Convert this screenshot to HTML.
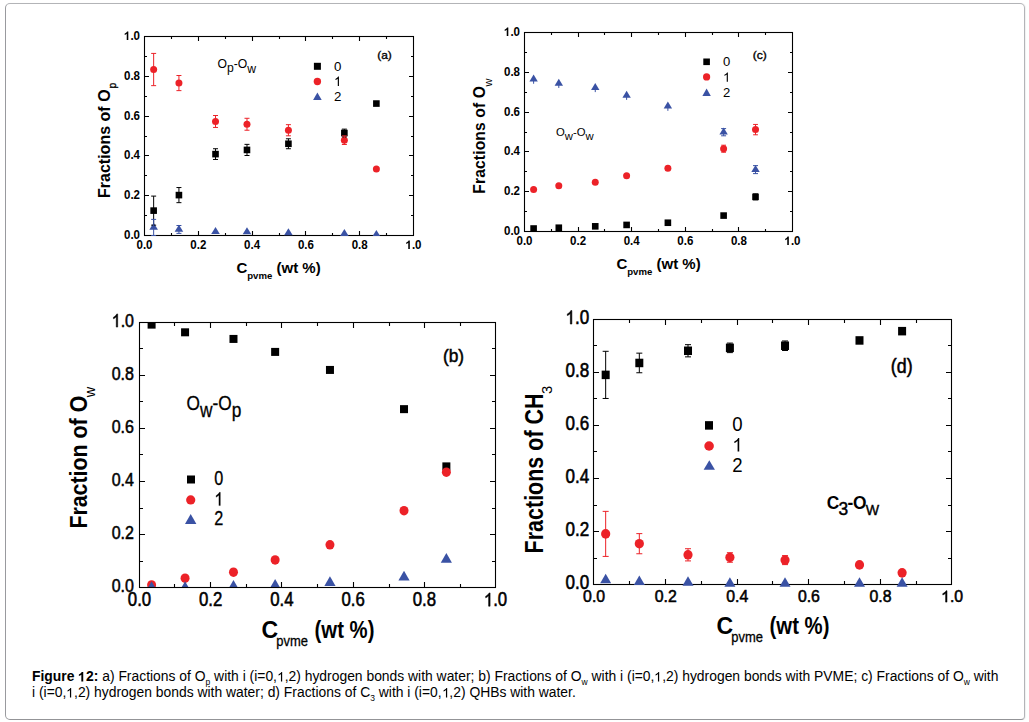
<!DOCTYPE html><html><head><meta charset="utf-8"><style>html,body{margin:0;padding:0;background:#fff;}svg{display:block;position:absolute;left:0;top:0}text{font-family:"Liberation Sans", sans-serif;}.cap{position:absolute;left:32px;font-family:"Liberation Sans", sans-serif;font-size:13.88px;color:#000;white-space:nowrap;line-height:16px}.cap sub{font-size:8.5px;vertical-align:-4px;line-height:0}.o1{display:inline-block;position:relative;width:0.5562em;height:0}.o1 svg{position:absolute;left:0;top:auto;bottom:0;width:0.5562em;height:0.688em;overflow:visible}</style></head><body>
<svg width="1029" height="722" viewBox="0 0 1029 722">
<rect x="0" y="0" width="1029" height="722" fill="#fff"/>
<path d="M171.5 235.5v-2.5M171.5 36.5v2.5M144.5 215.5h2.5M413.5 215.5h-2.5M198.5 235.5v-4.5M198.5 36.5v4.5M144.5 195.5h4.5M413.5 195.5h-4.5M225.5 235.5v-2.5M225.5 36.5v2.5M144.5 175.5h2.5M413.5 175.5h-2.5M252.5 235.5v-4.5M252.5 36.5v4.5M144.5 155.5h4.5M413.5 155.5h-4.5M279.5 235.5v-2.5M279.5 36.5v2.5M144.5 136.5h2.5M413.5 136.5h-2.5M305.5 235.5v-4.5M305.5 36.5v4.5M144.5 116.5h4.5M413.5 116.5h-4.5M332.5 235.5v-2.5M332.5 36.5v2.5M144.5 96.5h2.5M413.5 96.5h-2.5M359.5 235.5v-4.5M359.5 36.5v4.5M144.5 76.5h4.5M413.5 76.5h-4.5M386.5 235.5v-2.5M386.5 36.5v2.5M144.5 56.5h2.5M413.5 56.5h-2.5" stroke="#000" stroke-width="1.1" fill="none"/>
<clipPath id="ca"><rect x="144.5" y="36.5" width="269" height="199.6"/></clipPath>
<rect x="144.5" y="36.5" width="269" height="199" fill="none" stroke="#000" stroke-width="1.1"/>
<g clip-path="url(#ca)"><rect x="150.35" y="207.32" width="6.6" height="6.6" fill="#000"/><rect x="175.63" y="191.8" width="6.6" height="6.6" fill="#000"/><rect x="212.22" y="150.81" width="6.6" height="6.6" fill="#000"/><rect x="243.69" y="146.63" width="6.6" height="6.6" fill="#000"/><rect x="285.12" y="140.46" width="6.6" height="6.6" fill="#000"/><rect x="341.07" y="129.71" width="6.6" height="6.6" fill="#000"/><rect x="373.08" y="100.26" width="6.6" height="6.6" fill="#000"/></g>
<g clip-path="url(#ca)"><ellipse cx="153.65" cy="69.53" rx="3.5" ry="3.5" fill="#ec2228"/><ellipse cx="178.93" cy="83.07" rx="3.5" ry="3.5" fill="#ec2228"/><ellipse cx="215.52" cy="121.47" rx="3.5" ry="3.5" fill="#ec2228"/><ellipse cx="246.99" cy="124.26" rx="3.5" ry="3.5" fill="#ec2228"/><ellipse cx="288.42" cy="130.23" rx="3.5" ry="3.5" fill="#ec2228"/><ellipse cx="344.37" cy="140.18" rx="3.5" ry="3.5" fill="#ec2228"/><ellipse cx="376.38" cy="169.03" rx="3.5" ry="3.5" fill="#ec2228"/></g>
<g clip-path="url(#ca)"><path d="M153.65 222.77L157.95 229.77L149.35 229.77Z" fill="#3a52a4"/><path d="M178.93 224.78L183.23 231.78L174.63 231.78Z" fill="#3a52a4"/><path d="M215.52 227.05L219.82 234.05L211.22 234.05Z" fill="#3a52a4"/><path d="M246.99 227.29L251.29 234.29L242.69 234.29Z" fill="#3a52a4"/><path d="M288.42 228.13L292.72 235.13L284.12 235.13Z" fill="#3a52a4"/><path d="M344.37 228.94L348.67 235.94L340.07 235.94Z" fill="#3a52a4"/><path d="M376.38 229.94L380.68 236.94L372.08 236.94Z" fill="#3a52a4"/></g>
<g clip-path="url(#ca)"><path d="M153.65 196.1V225.15M151.15 196.1h5M151.15 225.15h5" stroke="#000" stroke-width="1.0" fill="none"/><path d="M178.93 187.54V202.66M176.43 187.54h5M176.43 202.66h5" stroke="#000" stroke-width="1.0" fill="none"/><path d="M215.52 148.74V159.48M213.02 148.74h5M213.02 159.48h5" stroke="#000" stroke-width="1.0" fill="none"/><path d="M246.99 144.36V155.5M244.49 144.36h5M244.49 155.5h5" stroke="#000" stroke-width="1.0" fill="none"/><path d="M288.42 138.79V148.74M285.92 138.79h5M285.92 148.74h5" stroke="#000" stroke-width="1.0" fill="none"/><path d="M344.37 129.13V136.9M341.87 129.13h5M341.87 136.9h5" stroke="#000" stroke-width="1.0" fill="none"/></g>
<g clip-path="url(#ca)"><path d="M153.65 53.42V85.65M151.15 53.42h5M151.15 85.65h5" stroke="#ec2228" stroke-width="1.0" fill="none"/><path d="M178.93 75.5V90.63M176.43 75.5h5M176.43 90.63h5" stroke="#ec2228" stroke-width="1.0" fill="none"/><path d="M215.52 115.5V127.44M213.02 115.5h5M213.02 127.44h5" stroke="#ec2228" stroke-width="1.0" fill="none"/><path d="M246.99 118.29V130.23M244.49 118.29h5M244.49 130.23h5" stroke="#ec2228" stroke-width="1.0" fill="none"/><path d="M288.42 124.66V135.8M285.92 124.66h5M285.92 135.8h5" stroke="#ec2228" stroke-width="1.0" fill="none"/><path d="M344.37 135.88V144.48M341.87 135.88h5M341.87 144.48h5" stroke="#ec2228" stroke-width="1.0" fill="none"/></g>
<g clip-path="url(#ca)"><path d="M153.65 219.38V235.5M151.15 219.38h5M151.15 235.5h5" stroke="#3a52a4" stroke-width="1.0" fill="none"/><path d="M178.93 225.51V233.39M176.43 225.51h5M176.43 233.39h5" stroke="#3a52a4" stroke-width="1.0" fill="none"/></g>
<text transform="translate(144.5 248.9) scale(0.93 1)" font-size="12.4" font-weight="bold" text-anchor="middle" fill="#000">0.0</text>
<text transform="translate(198.3 248.9) scale(0.93 1)" font-size="12.4" font-weight="bold" text-anchor="middle" fill="#000">0.2</text>
<text transform="translate(252.1 248.9) scale(0.93 1)" font-size="12.4" font-weight="bold" text-anchor="middle" fill="#000">0.4</text>
<text transform="translate(305.9 248.9) scale(0.93 1)" font-size="12.4" font-weight="bold" text-anchor="middle" fill="#000">0.6</text>
<text transform="translate(359.7 248.9) scale(0.93 1)" font-size="12.4" font-weight="bold" text-anchor="middle" fill="#000">0.8</text>
<g transform="translate(413.5 248.9) scale(0.93 1)"><path d="M773 0L492 0L492 1014Q338 876 129 810L129 1054Q239 1088 368 1184Q497 1280 545 1409L773 1409Z" transform="translate(-8.62 0) scale(0.00605 -0.00605)" fill="#000"/><text x="-1.72" y="0" font-size="12.4" font-weight="bold" fill="#000">.0</text></g>
<text transform="translate(140 238.9) scale(0.93 1)" font-size="12.4" font-weight="bold" text-anchor="end" fill="#000">0.0</text>
<text transform="translate(140 199.1) scale(0.93 1)" font-size="12.4" font-weight="bold" text-anchor="end" fill="#000">0.2</text>
<text transform="translate(140 159.3) scale(0.93 1)" font-size="12.4" font-weight="bold" text-anchor="end" fill="#000">0.4</text>
<text transform="translate(140 119.5) scale(0.93 1)" font-size="12.4" font-weight="bold" text-anchor="end" fill="#000">0.6</text>
<text transform="translate(140 79.7) scale(0.93 1)" font-size="12.4" font-weight="bold" text-anchor="end" fill="#000">0.8</text>
<g transform="translate(140 39.9) scale(0.93 1)"><path d="M773 0L492 0L492 1014Q338 876 129 810L129 1054Q239 1088 368 1184Q497 1280 545 1409L773 1409Z" transform="translate(-17.24 0) scale(0.00605 -0.00605)" fill="#000"/><text x="-10.34" y="0" font-size="12.4" font-weight="bold" fill="#000">.0</text></g>
<rect x="313.9" y="62.8" width="7" height="7" fill="#000"/>
<ellipse cx="317.4" cy="81.5" rx="3.7" ry="3.7" fill="#ec2228"/>
<path d="M317.4 92.5L321.7 100.1L313.1 100.1Z" fill="#3a52a4"/>
<text transform="translate(334 70.8) scale(0.97 1)" font-size="13.7" fill="#000">0</text>
<g transform="translate(334 86) scale(0.97 1)"><path d="M763 0L583 0L583 1098Q518 1039 412 980Q306 920 222 890L222 1057Q373 1125 486 1221Q599 1318 646 1409L763 1409Z" transform="translate(0 0) scale(0.00669 -0.00669)" fill="#000"/></g>
<text transform="translate(334 101) scale(0.97 1)" font-size="13.7" fill="#000">2</text>
<text transform="translate(377.2 58.6) scale(1.03 1)" font-size="11.6" stroke="#000" stroke-width="0.35" fill="#000">(a)</text>
<text x="217.4" y="67.8" font-size="12.2" fill="#000">O<tspan dy="4.6">p</tspan><tspan dy="-4.6">-O</tspan><tspan dy="4.8">w</tspan></text>
<text transform="translate(109.5 198.0) rotate(-90)" font-size="16" font-weight="bold" fill="#000" textLength="108.6" lengthAdjust="spacing">Fractions of O</text>
<text transform="translate(116.4 88.6) rotate(-90)" font-size="10.4" stroke="#000" stroke-width="0.35" fill="#000">p</text>
<text x="236.4" y="272.6" font-size="15" font-weight="bold" fill="#000">C<tspan dy="6.2" font-size="9.6">pvme</tspan><tspan dy="-6.2"> (wt %)</tspan></text>
<path d="M551.5 231.5v-2.5M551.5 32.5v2.5M524.5 211.5h2.5M792.5 211.5h-2.5M578.5 231.5v-4.5M578.5 32.5v4.5M524.5 191.5h4.5M792.5 191.5h-4.5M604.5 231.5v-2.5M604.5 32.5v2.5M524.5 171.5h2.5M792.5 171.5h-2.5M631.5 231.5v-4.5M631.5 32.5v4.5M524.5 151.5h4.5M792.5 151.5h-4.5M658.5 231.5v-2.5M658.5 32.5v2.5M524.5 132.5h2.5M792.5 132.5h-2.5M685.5 231.5v-4.5M685.5 32.5v4.5M524.5 112.5h4.5M792.5 112.5h-4.5M712.5 231.5v-2.5M712.5 32.5v2.5M524.5 92.5h2.5M792.5 92.5h-2.5M738.5 231.5v-4.5M738.5 32.5v4.5M524.5 72.5h4.5M792.5 72.5h-4.5M765.5 231.5v-2.5M765.5 32.5v2.5M524.5 52.5h2.5M792.5 52.5h-2.5" stroke="#000" stroke-width="1.1" fill="none"/>
<clipPath id="cc"><rect x="524.5" y="32.5" width="268" height="199.6"/></clipPath>
<rect x="524.5" y="32.5" width="268" height="199" fill="none" stroke="#000" stroke-width="1.1"/>
<g clip-path="url(#cc)"><rect x="530.31" y="225.21" width="6.6" height="6.6" fill="#000"/><rect x="555.5" y="224.42" width="6.6" height="6.6" fill="#000"/><rect x="591.95" y="223.03" width="6.6" height="6.6" fill="#000"/><rect x="623.31" y="221.63" width="6.6" height="6.6" fill="#000"/><rect x="664.58" y="219.44" width="6.6" height="6.6" fill="#000"/><rect x="720.32" y="212.28" width="6.6" height="6.6" fill="#000"/><rect x="752.22" y="193.57" width="6.6" height="6.6" fill="#000"/></g>
<g clip-path="url(#cc)"><ellipse cx="533.61" cy="189.51" rx="3.5" ry="3.5" fill="#ec2228"/><ellipse cx="558.8" cy="185.73" rx="3.5" ry="3.5" fill="#ec2228"/><ellipse cx="595.25" cy="182.35" rx="3.5" ry="3.5" fill="#ec2228"/><ellipse cx="626.61" cy="175.78" rx="3.5" ry="3.5" fill="#ec2228"/><ellipse cx="667.88" cy="168.22" rx="3.5" ry="3.5" fill="#ec2228"/><ellipse cx="723.62" cy="148.72" rx="3.5" ry="3.5" fill="#ec2228"/><ellipse cx="755.52" cy="129.61" rx="3.5" ry="3.5" fill="#ec2228"/></g>
<g clip-path="url(#cc)"><path d="M755.52 164.94L759.72 171.94L751.32 171.94Z" fill="#3a52a4"/><path d="M723.62 127.53L727.82 134.53L719.42 134.53Z" fill="#3a52a4"/><path d="M667.88 101.46L672.08 108.46L663.68 108.46Z" fill="#3a52a4"/><path d="M626.61 90.72L630.81 97.72L622.41 97.72Z" fill="#3a52a4"/><path d="M595.25 82.96L599.45 89.96L591.05 89.96Z" fill="#3a52a4"/><path d="M558.8 78.78L563 85.78L554.6 85.78Z" fill="#3a52a4"/><path d="M533.61 74.6L537.81 81.6L529.41 81.6Z" fill="#3a52a4"/><path d="M533.61 79.26V83.76" stroke="#3a52a4" stroke-width="1" fill="none"/><path d="M558.8 83.44V87.94" stroke="#3a52a4" stroke-width="1" fill="none"/><path d="M595.25 87.62V92.12" stroke="#3a52a4" stroke-width="1" fill="none"/><path d="M626.61 95.38V99.88" stroke="#3a52a4" stroke-width="1" fill="none"/><path d="M667.88 106.13V110.83" stroke="#3a52a4" stroke-width="1" fill="none"/><path d="M723.62 128.6V135.8M721.12 128.6h5M721.12 135.8h5" stroke="#3a52a4" stroke-width="1" fill="none"/><path d="M755.52 165.61V173.61M753.02 165.61h5M753.02 173.61h5" stroke="#3a52a4" stroke-width="1" fill="none"/></g>
<g clip-path="url(#cc)"><path d="M755.52 193.89V199.86M753.02 193.89h5M753.02 199.86h5" stroke="#000" stroke-width="1.0" fill="none"/></g>
<g clip-path="url(#cc)"><path d="M723.62 145.21V152.22M721.22 145.21h4.8M721.22 152.22h4.8" stroke="#ec2228" stroke-width="1.0" fill="none"/><path d="M755.52 124.44V134.79M753.12 124.44h4.8M753.12 134.79h4.8" stroke="#ec2228" stroke-width="1.0" fill="none"/></g>
<text transform="translate(524.5 245.1) scale(0.93 1)" font-size="12.4" font-weight="bold" text-anchor="middle" fill="#000">0.0</text>
<text transform="translate(578.1 245.1) scale(0.93 1)" font-size="12.4" font-weight="bold" text-anchor="middle" fill="#000">0.2</text>
<text transform="translate(631.7 245.1) scale(0.93 1)" font-size="12.4" font-weight="bold" text-anchor="middle" fill="#000">0.4</text>
<text transform="translate(685.3 245.1) scale(0.93 1)" font-size="12.4" font-weight="bold" text-anchor="middle" fill="#000">0.6</text>
<text transform="translate(738.9 245.1) scale(0.93 1)" font-size="12.4" font-weight="bold" text-anchor="middle" fill="#000">0.8</text>
<g transform="translate(792.5 245.1) scale(0.93 1)"><path d="M773 0L492 0L492 1014Q338 876 129 810L129 1054Q239 1088 368 1184Q497 1280 545 1409L773 1409Z" transform="translate(-8.62 0) scale(0.00605 -0.00605)" fill="#000"/><text x="-1.72" y="0" font-size="12.4" font-weight="bold" fill="#000">.0</text></g>
<text transform="translate(520 234.9) scale(0.93 1)" font-size="12.4" font-weight="bold" text-anchor="end" fill="#000">0.0</text>
<text transform="translate(520 195.1) scale(0.93 1)" font-size="12.4" font-weight="bold" text-anchor="end" fill="#000">0.2</text>
<text transform="translate(520 155.3) scale(0.93 1)" font-size="12.4" font-weight="bold" text-anchor="end" fill="#000">0.4</text>
<text transform="translate(520 115.5) scale(0.93 1)" font-size="12.4" font-weight="bold" text-anchor="end" fill="#000">0.6</text>
<text transform="translate(520 75.7) scale(0.93 1)" font-size="12.4" font-weight="bold" text-anchor="end" fill="#000">0.8</text>
<g transform="translate(520 35.9) scale(0.93 1)"><path d="M773 0L492 0L492 1014Q338 876 129 810L129 1054Q239 1088 368 1184Q497 1280 545 1409L773 1409Z" transform="translate(-17.24 0) scale(0.00605 -0.00605)" fill="#000"/><text x="-10.34" y="0" font-size="12.4" font-weight="bold" fill="#000">.0</text></g>
<rect x="703.3" y="58.5" width="6.6" height="6.6" fill="#000"/>
<ellipse cx="706.6" cy="76.9" rx="3.6" ry="3.6" fill="#ec2228"/>
<path d="M706.6 88.5L710.8 95.9L702.4 95.9Z" fill="#3a52a4"/>
<text transform="translate(723 65.8) scale(0.97 1)" font-size="13.5" fill="#000">0</text>
<g transform="translate(723 81.8) scale(0.97 1)"><path d="M763 0L583 0L583 1098Q518 1039 412 980Q306 920 222 890L222 1057Q373 1125 486 1221Q599 1318 646 1409L763 1409Z" transform="translate(0 0) scale(0.00659 -0.00659)" fill="#000"/></g>
<text transform="translate(723 97) scale(0.97 1)" font-size="13.5" fill="#000">2</text>
<text transform="translate(752.8 59.1) scale(1.08 1)" font-size="11.2" stroke="#000" stroke-width="0.35" fill="#000">(c)</text>
<text x="556.0" y="135.9" font-size="11.3" fill="#000">O<tspan dy="3.8">w</tspan><tspan dy="-3.8">-O</tspan><tspan dy="3.8">w</tspan></text>
<text transform="translate(484.9 193.7) rotate(-90)" font-size="15.6" font-weight="bold" fill="#000" textLength="107.6" lengthAdjust="spacing">Fractions of O</text>
<text transform="translate(492.1 86.6) rotate(-90)" font-size="11" fill="#000">w</text>
<text x="616.4" y="268.8" font-size="15" font-weight="bold" fill="#000">C<tspan dy="6.2" font-size="9.6">pvme</tspan><tspan dy="-6.2"> (wt %)</tspan></text>
<path d="M174.5 587.5v-3.5M174.5 322.5v3.5M139.5 561.5h3.5M495.5 561.5h-3.5M210.5 587.5v-5.5M210.5 322.5v5.5M139.5 534.5h5.5M495.5 534.5h-5.5M246.5 587.5v-3.5M246.5 322.5v3.5M139.5 508.5h3.5M495.5 508.5h-3.5M281.5 587.5v-5.5M281.5 322.5v5.5M139.5 481.5h5.5M495.5 481.5h-5.5M317.5 587.5v-3.5M317.5 322.5v3.5M139.5 454.5h3.5M495.5 454.5h-3.5M353.5 587.5v-5.5M353.5 322.5v5.5M139.5 428.5h5.5M495.5 428.5h-5.5M389.5 587.5v-3.5M389.5 322.5v3.5M139.5 401.5h3.5M495.5 401.5h-3.5M424.5 587.5v-5.5M424.5 322.5v5.5M139.5 375.5h5.5M495.5 375.5h-5.5M460.5 587.5v-3.5M460.5 322.5v3.5M139.5 348.5h3.5M495.5 348.5h-3.5" stroke="#000" stroke-width="1.1" fill="none"/>
<clipPath id="cb"><rect x="139.5" y="322.5" width="356" height="265"/></clipPath>
<g clip-path="url(#cb)"><rect x="147.6" y="320.62" width="8" height="8" fill="#000"/><rect x="181.07" y="328.31" width="8" height="8" fill="#000"/><rect x="229.48" y="334.93" width="8" height="8" fill="#000"/><rect x="271.14" y="347.91" width="8" height="8" fill="#000"/><rect x="325.96" y="365.94" width="8" height="8" fill="#000"/><rect x="400.01" y="405.15" width="8" height="8" fill="#000"/><rect x="442.37" y="462.39" width="8" height="8" fill="#000"/></g>
<g clip-path="url(#cb)"><ellipse cx="151.6" cy="584.9" rx="4.5" ry="4.75" fill="#ec2228"/><ellipse cx="185.07" cy="578.23" rx="4.5" ry="4.75" fill="#ec2228"/><ellipse cx="233.48" cy="572.13" rx="4.5" ry="4.75" fill="#ec2228"/><ellipse cx="275.14" cy="559.94" rx="4.5" ry="4.75" fill="#ec2228"/><ellipse cx="329.96" cy="544.84" rx="4.5" ry="4.75" fill="#ec2228"/><ellipse cx="404.01" cy="510.65" rx="4.5" ry="4.75" fill="#ec2228"/><ellipse cx="446.37" cy="472.23" rx="4.5" ry="4.75" fill="#ec2228"/></g>
<g clip-path="url(#cb)"><path d="M151.6 581.23L157.2 591.03L146 591.03Z" fill="#3a52a4"/><path d="M185.07 581.23L190.67 591.03L179.47 591.03Z" fill="#3a52a4"/><path d="M233.48 579.91L239.08 589.71L227.88 589.71Z" fill="#3a52a4"/><path d="M275.14 578.98L280.74 588.78L269.54 588.78Z" fill="#3a52a4"/><path d="M329.96 576.2L335.56 586L324.36 586Z" fill="#3a52a4"/><path d="M404.01 570.76L409.61 580.56L398.41 580.56Z" fill="#3a52a4"/><path d="M446.37 552.96L451.97 562.76L440.77 562.76Z" fill="#3a52a4"/></g>
<rect x="139.5" y="322.5" width="356" height="265" fill="none" stroke="#000" stroke-width="1.1"/>
<text transform="translate(139.5 606.2) scale(0.87 1)" font-size="19.3" stroke="#000" stroke-width="0.55" text-anchor="middle" fill="#000">0.0</text>
<text transform="translate(210.7 606.2) scale(0.87 1)" font-size="19.3" stroke="#000" stroke-width="0.55" text-anchor="middle" fill="#000">0.2</text>
<text transform="translate(281.9 606.2) scale(0.87 1)" font-size="19.3" stroke="#000" stroke-width="0.55" text-anchor="middle" fill="#000">0.4</text>
<text transform="translate(353.1 606.2) scale(0.87 1)" font-size="19.3" stroke="#000" stroke-width="0.55" text-anchor="middle" fill="#000">0.6</text>
<text transform="translate(424.3 606.2) scale(0.87 1)" font-size="19.3" stroke="#000" stroke-width="0.55" text-anchor="middle" fill="#000">0.8</text>
<g transform="translate(495.5 606.2) scale(0.87 1)"><path d="M763 0L583 0L583 1098Q518 1039 412 980Q306 920 222 890L222 1057Q373 1125 486 1221Q599 1318 646 1409L763 1409Z" transform="translate(-13.41 0) scale(0.00942 -0.00942)" fill="#000" stroke="#000" stroke-width="58"/><text x="-2.68" y="0" font-size="19.3" stroke="#000" stroke-width="0.55" fill="#000">.0</text></g>
<text transform="translate(134 592.08) scale(0.84 1)" font-size="19.1" stroke="#000" stroke-width="0.55" text-anchor="end" fill="#000">0.0</text>
<text transform="translate(134 539.08) scale(0.84 1)" font-size="19.1" stroke="#000" stroke-width="0.55" text-anchor="end" fill="#000">0.2</text>
<text transform="translate(134 486.08) scale(0.84 1)" font-size="19.1" stroke="#000" stroke-width="0.55" text-anchor="end" fill="#000">0.4</text>
<text transform="translate(134 433.08) scale(0.84 1)" font-size="19.1" stroke="#000" stroke-width="0.55" text-anchor="end" fill="#000">0.6</text>
<text transform="translate(134 380.08) scale(0.84 1)" font-size="19.1" stroke="#000" stroke-width="0.55" text-anchor="end" fill="#000">0.8</text>
<g transform="translate(134 327.08) scale(0.84 1)"><path d="M763 0L583 0L583 1098Q518 1039 412 980Q306 920 222 890L222 1057Q373 1125 486 1221Q599 1318 646 1409L763 1409Z" transform="translate(-26.55 0) scale(0.00933 -0.00933)" fill="#000" stroke="#000" stroke-width="59"/><text x="-15.93" y="0" font-size="19.1" stroke="#000" stroke-width="0.55" fill="#000">.0</text></g>
<rect x="187" y="475.5" width="8" height="8" fill="#000"/>
<ellipse cx="190.7" cy="499.9" rx="4.6" ry="4.6" fill="#ec2228"/>
<path d="M190.7 514.05L196.4 523.95L185 523.95Z" fill="#3a52a4"/>
<text transform="translate(214.3 484.6) scale(0.84 1)" font-size="19.3" stroke="#000" stroke-width="0.3" fill="#000">0</text>
<g transform="translate(214.3 505.6) scale(0.84 1)"><path d="M763 0L583 0L583 1098Q518 1039 412 980Q306 920 222 890L222 1057Q373 1125 486 1221Q599 1318 646 1409L763 1409Z" transform="translate(0 0) scale(0.00942 -0.00942)" fill="#000" stroke="#000" stroke-width="32"/></g>
<text transform="translate(214.3 525.4) scale(0.84 1)" font-size="19.3" stroke="#000" stroke-width="0.3" fill="#000">2</text>
<text transform="translate(443 361.7) scale(0.93 1)" font-size="18.6" stroke="#000" stroke-width="0.5" fill="#000">(b)</text>
<text transform="translate(186.6 409.6) scale(0.885 1)" font-size="19.5" fill="#000" stroke="#000" stroke-width="0.3">O<tspan dy="7.1">w</tspan><tspan dy="-7.1">-O</tspan><tspan dy="7.1">p</tspan></text>
<text transform="translate(87 528.6) rotate(-90) scale(0.872 1)" font-size="24.5" font-weight="bold" fill="#000">Fraction of O</text>
<text transform="translate(95 397.2) rotate(-90)" font-size="14.5" fill="#000">w</text>
<text transform="translate(261.4 638) scale(0.93 1)" font-size="24.8" font-weight="bold" fill="#000">C</text>
<text transform="translate(276.2 645.5) scale(0.9 1)" font-size="14.4" stroke="#000" stroke-width="0.3" fill="#000">pvme</text>
<text transform="translate(314.6 638) scale(0.82 1)" font-size="24.8" font-weight="bold" fill="#000">(wt %)</text>
<path d="M629.5 584.5v-3.5M629.5 319.5v3.5M593.5 558.5h3.5M951.5 558.5h-3.5M665.5 584.5v-5.5M665.5 319.5v5.5M593.5 531.5h5.5M951.5 531.5h-5.5M701.5 584.5v-3.5M701.5 319.5v3.5M593.5 505.5h3.5M951.5 505.5h-3.5M737.5 584.5v-5.5M737.5 319.5v5.5M593.5 478.5h5.5M951.5 478.5h-5.5M772.5 584.5v-3.5M772.5 319.5v3.5M593.5 451.5h3.5M951.5 451.5h-3.5M808.5 584.5v-5.5M808.5 319.5v5.5M593.5 425.5h5.5M951.5 425.5h-5.5M844.5 584.5v-3.5M844.5 319.5v3.5M593.5 398.5h3.5M951.5 398.5h-3.5M880.5 584.5v-5.5M880.5 319.5v5.5M593.5 372.5h5.5M951.5 372.5h-5.5M916.5 584.5v-3.5M916.5 319.5v3.5M593.5 345.5h3.5M951.5 345.5h-3.5" stroke="#000" stroke-width="1.1" fill="none"/>
<clipPath id="cd"><rect x="593.5" y="319.5" width="358" height="268"/></clipPath>
<rect x="593.5" y="319.5" width="358" height="265" fill="none" stroke="#000" stroke-width="1.1"/>
<g clip-path="url(#cd)"><rect x="601.67" y="370.63" width="8" height="8.5" fill="#000"/><rect x="635.32" y="358.71" width="8" height="8.5" fill="#000"/><rect x="684.01" y="346.52" width="8" height="8.5" fill="#000"/><rect x="725.9" y="343.61" width="8" height="8.5" fill="#000"/><rect x="781.03" y="341.49" width="8" height="8.5" fill="#000"/><rect x="855.49" y="336.19" width="8" height="8.5" fill="#000"/><rect x="898.1" y="326.91" width="8" height="8.5" fill="#000"/></g>
<g clip-path="url(#cd)"><ellipse cx="605.67" cy="533.88" rx="4.6" ry="4.8" fill="#ec2228"/><ellipse cx="639.32" cy="543.69" rx="4.6" ry="4.8" fill="#ec2228"/><ellipse cx="688.01" cy="554.82" rx="4.6" ry="4.8" fill="#ec2228"/><ellipse cx="729.9" cy="557.47" rx="4.6" ry="4.8" fill="#ec2228"/><ellipse cx="785.03" cy="560.12" rx="4.6" ry="4.8" fill="#ec2228"/><ellipse cx="859.49" cy="564.89" rx="4.6" ry="4.8" fill="#ec2228"/><ellipse cx="902.1" cy="572.84" rx="4.6" ry="4.8" fill="#ec2228"/></g>
<g clip-path="url(#cd)"><path d="M605.67 573.77L611.17 583.27L600.17 583.27Z" fill="#3a52a4"/><path d="M639.32 575.57L644.82 585.07L633.82 585.07Z" fill="#3a52a4"/><path d="M688.01 576.26L693.51 585.76L682.51 585.76Z" fill="#3a52a4"/><path d="M729.9 577.16L735.4 586.66L724.4 586.66Z" fill="#3a52a4"/><path d="M785.03 577.16L790.53 586.66L779.53 586.66Z" fill="#3a52a4"/><path d="M859.49 577.16L864.99 586.66L853.99 586.66Z" fill="#3a52a4"/><path d="M902.1 577.24L907.6 586.74L896.6 586.74Z" fill="#3a52a4"/></g>
<g clip-path="url(#cd)"><path d="M605.67 351.3V398.47M602.67 351.3h6M602.67 398.47h6" stroke="#000" stroke-width="1.0" fill="none"/><path d="M639.32 353.15V372.76M636.32 353.15h6M636.32 372.76h6" stroke="#000" stroke-width="1.0" fill="none"/><path d="M688.01 344.67V356.87M685.01 344.67h6M685.01 356.87h6" stroke="#000" stroke-width="1.0" fill="none"/><path d="M729.9 343.08V352.62M726.9 343.08h6M726.9 352.62h6" stroke="#000" stroke-width="1.0" fill="none"/><path d="M785.03 340.97V350.5M782.03 340.97h6M782.03 350.5h6" stroke="#000" stroke-width="1.0" fill="none"/></g>
<g clip-path="url(#cd)"><path d="M605.67 511.36V556.41M602.67 511.36h6M602.67 556.41h6" stroke="#ec2228" stroke-width="1.0" fill="none"/><path d="M639.32 533.62V553.76M636.32 533.62h6M636.32 553.76h6" stroke="#ec2228" stroke-width="1.0" fill="none"/><path d="M688.01 548.73V560.91M685.01 548.73h6M685.01 560.91h6" stroke="#ec2228" stroke-width="1.0" fill="none"/><path d="M729.9 552.7V562.24M726.9 552.7h6M726.9 562.24h6" stroke="#ec2228" stroke-width="1.0" fill="none"/><path d="M785.03 555.62V564.62M782.03 555.62h6M782.03 564.62h6" stroke="#ec2228" stroke-width="1.0" fill="none"/></g>
<text transform="translate(594.1 602.12) scale(0.96 1)" font-size="16.5" stroke="#000" stroke-width="0.55" text-anchor="middle" fill="#000">0.0</text>
<text transform="translate(665.7 602.12) scale(0.96 1)" font-size="16.5" stroke="#000" stroke-width="0.55" text-anchor="middle" fill="#000">0.2</text>
<text transform="translate(737.3 602.12) scale(0.96 1)" font-size="16.5" stroke="#000" stroke-width="0.55" text-anchor="middle" fill="#000">0.4</text>
<text transform="translate(808.9 602.12) scale(0.96 1)" font-size="16.5" stroke="#000" stroke-width="0.55" text-anchor="middle" fill="#000">0.6</text>
<text transform="translate(880.5 602.12) scale(0.96 1)" font-size="16.5" stroke="#000" stroke-width="0.55" text-anchor="middle" fill="#000">0.8</text>
<g transform="translate(952.1 602.12) scale(0.96 1)"><path d="M763 0L583 0L583 1098Q518 1039 412 980Q306 920 222 890L222 1057Q373 1125 486 1221Q599 1318 646 1409L763 1409Z" transform="translate(-11.47 0) scale(0.00806 -0.00806)" fill="#000" stroke="#000" stroke-width="68"/><text x="-2.29" y="0" font-size="16.5" stroke="#000" stroke-width="0.55" fill="#000">.0</text></g>
<text transform="translate(589.2 589.06) scale(0.87 1)" font-size="19.6" stroke="#000" stroke-width="0.6" text-anchor="end" fill="#000">0.0</text>
<text transform="translate(589.2 536.06) scale(0.87 1)" font-size="19.6" stroke="#000" stroke-width="0.6" text-anchor="end" fill="#000">0.2</text>
<text transform="translate(589.2 483.06) scale(0.87 1)" font-size="19.6" stroke="#000" stroke-width="0.6" text-anchor="end" fill="#000">0.4</text>
<text transform="translate(589.2 430.06) scale(0.87 1)" font-size="19.6" stroke="#000" stroke-width="0.6" text-anchor="end" fill="#000">0.6</text>
<text transform="translate(589.2 377.06) scale(0.87 1)" font-size="19.6" stroke="#000" stroke-width="0.6" text-anchor="end" fill="#000">0.8</text>
<g transform="translate(589.2 324.06) scale(0.87 1)"><path d="M763 0L583 0L583 1098Q518 1039 412 980Q306 920 222 890L222 1057Q373 1125 486 1221Q599 1318 646 1409L763 1409Z" transform="translate(-27.25 0) scale(0.00957 -0.00957)" fill="#000" stroke="#000" stroke-width="63"/><text x="-16.35" y="0" font-size="19.6" stroke="#000" stroke-width="0.6" fill="#000">.0</text></g>
<rect x="705" y="421.15" width="8" height="8.5" fill="#000"/>
<ellipse cx="709.1" cy="446" rx="4.8" ry="4.7" fill="#ec2228"/>
<path d="M709.3 460.25L714.95 469.75L703.65 469.75Z" fill="#3a52a4"/>
<text transform="translate(732.3 430.7) scale(0.95 1)" font-size="19.6" fill="#000">0</text>
<g transform="translate(732.3 451.6) scale(0.95 1)"><path d="M763 0L583 0L583 1098Q518 1039 412 980Q306 920 222 890L222 1057Q373 1125 486 1221Q599 1318 646 1409L763 1409Z" transform="translate(0 0) scale(0.00957 -0.00957)" fill="#000"/></g>
<text transform="translate(732.3 471.7) scale(0.95 1)" font-size="19.6" fill="#000">2</text>
<text transform="translate(890.8 372.9) scale(0.92 1)" font-size="19.4" stroke="#000" stroke-width="0.5" fill="#000">(d)</text>
<text transform="translate(833.05 508.8) scale(0.92 1)" font-size="18.9" font-weight="bold" text-anchor="middle" fill="#000">C</text>
<text transform="translate(843.3 515) scale(0.92 1)" font-size="18.9" stroke="#000" stroke-width="0.5" text-anchor="middle" fill="#000">3</text>
<text transform="translate(850.3 508.8) scale(0.92 1)" font-size="18.9" font-weight="bold" text-anchor="middle" fill="#000">-</text>
<text transform="translate(859.8 508.8) scale(0.92 1)" font-size="18.9" font-weight="bold" text-anchor="middle" fill="#000">O</text>
<text transform="translate(872.35 515) scale(0.92 1)" font-size="15.4" stroke="#000" stroke-width="0.4" text-anchor="middle" fill="#000">W</text>
<text transform="translate(543.2 553.4) rotate(-90) scale(0.86 1)" font-size="25" font-weight="bold" fill="#000">Fractions of CH</text>
<text transform="translate(551.8 394) rotate(-90)" font-size="14.9" fill="#000">3</text>
<text transform="translate(716.4 634) scale(0.93 1)" font-size="24.8" font-weight="bold" fill="#000">C</text>
<text transform="translate(731.2 641.5) scale(0.9 1)" font-size="14.4" stroke="#000" stroke-width="0.3" fill="#000">pvme</text>
<text transform="translate(769.6 634) scale(0.82 1)" font-size="24.8" font-weight="bold" fill="#000">(wt %)</text>
</svg>
<div style="position:absolute;left:5px;top:3px;width:1020px;height:717px;box-sizing:border-box;border:1px solid;border-color:#b3b4b7 #b3b4b8 #939497 #999a9e;border-radius:5px 5px 4px 5px;box-shadow:1px 0 1px rgba(0,0,0,0.06)"></div>
<div class="cap" style="top:668.3px"><b>Figure <span class="o1"><svg viewBox="0 0 1139 1409" width="100%" height="100%"><path d="M773 0L492 0L492 1014Q338 876 129 810L129 1054Q239 1088 368 1184Q497 1280 545 1409L773 1409Z" transform="translate(0 1409) scale(1 -1)" fill="#000"/></svg></span>2:</b> a) Fractions of O<sub>p</sub> with i (i=0,<span class="o1"><svg viewBox="0 0 1139 1409" width="100%" height="100%"><path d="M763 0L583 0L583 1098Q518 1039 412 980Q306 920 222 890L222 1057Q373 1125 486 1221Q599 1318 646 1409L763 1409Z" transform="translate(0 1409) scale(1 -1)" fill="#000"/></svg></span>,2) hydrogen bonds with water; b) Fractions of O<sub>w</sub> with i (i=0,<span class="o1"><svg viewBox="0 0 1139 1409" width="100%" height="100%"><path d="M763 0L583 0L583 1098Q518 1039 412 980Q306 920 222 890L222 1057Q373 1125 486 1221Q599 1318 646 1409L763 1409Z" transform="translate(0 1409) scale(1 -1)" fill="#000"/></svg></span>,2) hydrogen bonds with PVME; c) Fractions of O<sub>w</sub> with</div>
<div class="cap" style="top:684.4px">i (i=0,<span class="o1"><svg viewBox="0 0 1139 1409" width="100%" height="100%"><path d="M763 0L583 0L583 1098Q518 1039 412 980Q306 920 222 890L222 1057Q373 1125 486 1221Q599 1318 646 1409L763 1409Z" transform="translate(0 1409) scale(1 -1)" fill="#000"/></svg></span>,2) hydrogen bonds with water; d) Fractions of C<sub>3</sub> with i (i=0,<span class="o1"><svg viewBox="0 0 1139 1409" width="100%" height="100%"><path d="M763 0L583 0L583 1098Q518 1039 412 980Q306 920 222 890L222 1057Q373 1125 486 1221Q599 1318 646 1409L763 1409Z" transform="translate(0 1409) scale(1 -1)" fill="#000"/></svg></span>,2) QHBs with water.</div>
</body></html>
